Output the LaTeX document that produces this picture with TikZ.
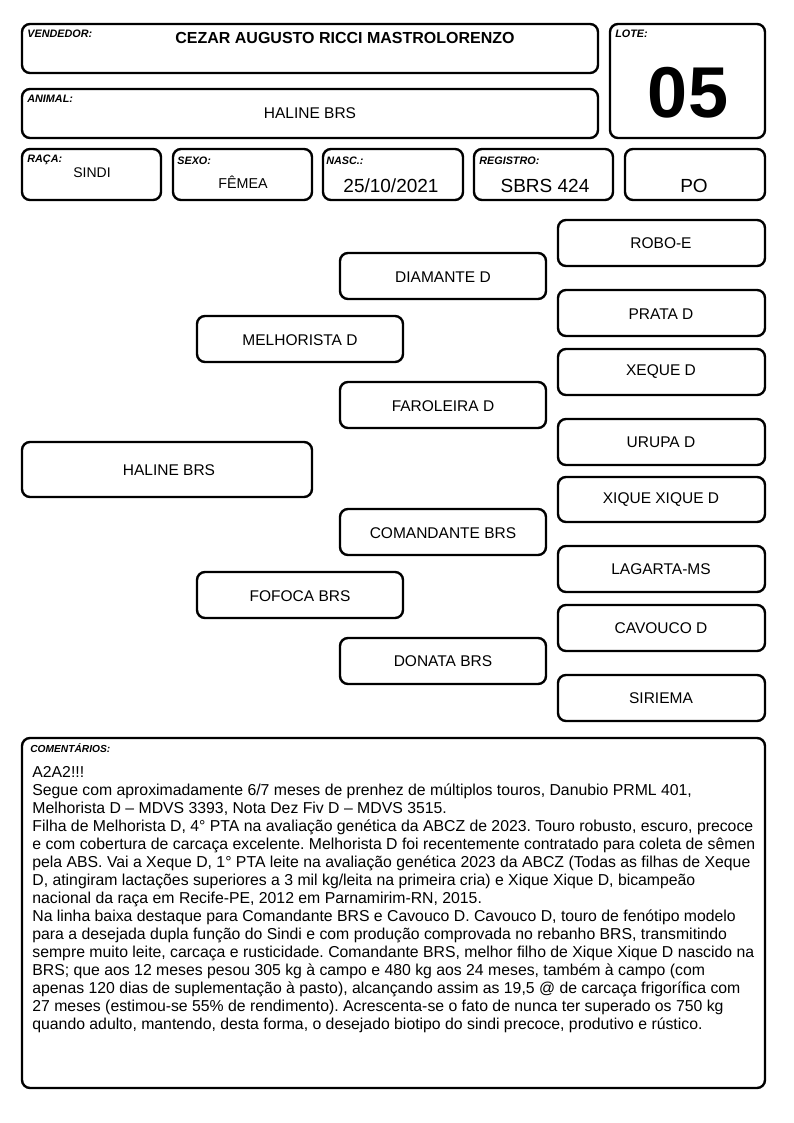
\documentclass[tikz,border=0pt]{standalone}
\usepackage{fontspec}
\setmainfont{Liberation Sans}
\usepackage{tikz}
\tikzset{every picture/.style={line width=0.75pt}}
\frenchspacing

\begin{document}
\begin{tikzpicture}[x=1pt,y=1pt,yscale=-1,xscale=1,
  cardbox/.style={line width=2.4pt, rounded corners=8pt},
  fieldlabel/.style={anchor=base west, inner sep=0pt, font=\fontsize{10.8}{12}\selectfont\bfseries\itshape},
  pedname/.style={inner sep=0.75pt, font=\fontsize{15.5}{18}\selectfont}]
\useasboundingbox (0,0) rectangle (794,1123);

%Rounded Rect: vendedor
\draw [cardbox] (22,24) rectangle (598,73);
\node [fieldlabel] (lblvend) at (27,38) {VENDEDOR:};
\node [anchor=base, inner sep=0pt, font=\fontsize{16}{18}\selectfont\bfseries] (vend) at (345,44) {CEZAR AUGUSTO RICCI MASTROLORENZO};
%Rounded Rect: lote
\draw [cardbox] (610,24) rectangle (765,138);
\node [fieldlabel] (lbllote) at (615,38) {LOTE:};
\node [anchor=base, inner sep=0pt, font=\fontsize{72}{80}\selectfont\bfseries] (lote) at (688,118) {05};
%Rounded Rect: animal
\draw [cardbox] (22,89) rectangle (598,138);
\node [fieldlabel] (lblanimal) at (27,103) {ANIMAL:};
\node [anchor=base, inner sep=0pt, font=\fontsize{15.5}{18}\selectfont] (animal) at (310,119) {HALINE BRS};

%Rounded Rect: raca
\draw [cardbox] (22,149) rectangle (161,200);
\node [fieldlabel] (lblraca) at (27,163) {RAÇA:};
\node [anchor=base, inner sep=0pt, font=\fontsize{14}{16}\selectfont] (raca) at (92,178) {SINDI};
%Rounded Rect: sexo
\draw [cardbox] (173,149) rectangle (312,200);
\node [fieldlabel] (lblsexo) at (177,165) {SEXO:};
\node [anchor=base, inner sep=0pt, font=\fontsize{14.3}{16}\selectfont] (sexo) at (243,189) {FÊMEA};
%Rounded Rect: nasc
\draw [cardbox] (323,149) rectangle (463,200);
\node [fieldlabel] (lblnasc) at (326,165) {NASC.:};
\node [anchor=base, inner sep=0pt, font=\fontsize{19}{22}\selectfont] (nasc) at (391,193) {25/10/2021};
%Rounded Rect: registro
\draw [cardbox] (474,149) rectangle (613,200);
\node [fieldlabel] (lblreg) at (479,165) {REGISTRO:};
\node [anchor=base, inner sep=0pt, font=\fontsize{19}{22}\selectfont] (reg) at (545,193) {SBRS 424};
%Rounded Rect: categoria
\draw [cardbox] (625,149) rectangle (765,200);
\node [anchor=base, inner sep=0pt, font=\fontsize{19}{22}\selectfont] (categ) at (694,193) {PO};

%Rounded Rect: animal (pedigree)
\draw [cardbox] (22,442) rectangle (312,497);
\node [pedname] (haline) at (169,470) {HALINE BRS};
%Rounded Rect: pai / mae
\draw [cardbox] (197,316) rectangle (403,362);
\node [pedname] (melhorista) at (300,340) {MELHORISTA D};
\draw [cardbox] (197,572) rectangle (403,618);
\node [pedname] (fofoca) at (300,596) {FOFOCA BRS};
%Rounded Rect: avos
\draw [cardbox] (340,253) rectangle (546,299);
\node [pedname] (diamante) at (443,277) {DIAMANTE D};
\draw [cardbox] (340,382) rectangle (546,428);
\node [pedname] (faroleira) at (443,406) {FAROLEIRA D};
\draw [cardbox] (340,509) rectangle (546,555);
\node [pedname] (comandante) at (443,533) {COMANDANTE BRS};
\draw [cardbox] (340,638) rectangle (546,684);
\node [pedname] (donata) at (443,661) {DONATA BRS};
%Rounded Rect: bisavos
\draw [cardbox] (558,220) rectangle (765,266);
\node [pedname] (roboe) at (661,243) {ROBO-E};
\draw [cardbox] (558,290) rectangle (765,336);
\node [pedname] (prata) at (661,314) {PRATA D};
\draw [cardbox] (558,349) rectangle (765,395);
\node [pedname] (xeque) at (661,372) {XEQUE D};
\draw [cardbox] (558,419) rectangle (765,465);
\node [pedname] (urupa) at (661,442) {URUPA D};
\draw [cardbox] (558,477) rectangle (765,522);
\node [pedname] (xiquexique) at (661,500) {XIQUE XIQUE D};
\draw [cardbox] (558,546) rectangle (765,592);
\node [pedname] (lagarta) at (661,569) {LAGARTA-MS};
\draw [cardbox] (558,605) rectangle (765,651);
\node [pedname] (cavouco) at (661,628) {CAVOUCO D};
\draw [cardbox] (558,675) rectangle (765,721);
\node [pedname] (siriema) at (661,698) {SIRIEMA};

%Rounded Rect: comentarios
\draw [cardbox] (22,738) rectangle (765,1088);
\node [anchor=base west, inner sep=0pt, font=\fontsize{10.2}{12}\selectfont\bfseries\itshape] (lblcoment) at (30,752) {COMENTÁRIOS:};
\node [anchor=north west, inner sep=0pt, align=left, font=\fontsize{15.8}{18}\selectfont] (coment) at (32,766) {A2A2!!!\\
Segue com aproximadamente 6/7 meses de prenhez de múltiplos touros, Danubio PRML 401,\\
Melhorista D – MDVS 3393, Nota Dez Fiv D – MDVS 3515.\\
Filha de Melhorista D, 4° PTA na avaliação genética da ABCZ de 2023. Touro robusto, escuro, precoce\\
e com cobertura de carcaça excelente. Melhorista D foi recentemente contratado para coleta de sêmen\\
pela ABS. Vai a Xeque D, 1° PTA leite na avaliação genética 2023 da ABCZ (Todas as filhas de Xeque\\
D, atingiram lactações superiores a 3 mil kg/leita na primeira cria) e Xique Xique D, bicampeão\\
nacional da raça em Recife-PE, 2012 em Parnamirim-RN, 2015.\\
Na linha baixa destaque para Comandante BRS e Cavouco D. Cavouco D, touro de fenótipo modelo\\
para a desejada dupla função do Sindi e com produção comprovada no rebanho BRS, transmitindo\\
sempre muito leite, carcaça e rusticidade. Comandante BRS, melhor filho de Xique Xique D nascido na\\
BRS; que aos 12 meses pesou 305 kg à campo e 480 kg aos 24 meses, também à campo (com\\
apenas 120 dias de suplementação à pasto), alcançando assim as 19,5 @ de carcaça frigorífica com\\
27 meses (estimou-se 55\% de rendimento). Acrescenta-se o fato de nunca ter superado os 750 kg\\
quando adulto, mantendo, desta forma, o desejado biotipo do sindi precoce, produtivo e rústico.};
\end{tikzpicture}
\end{document}
